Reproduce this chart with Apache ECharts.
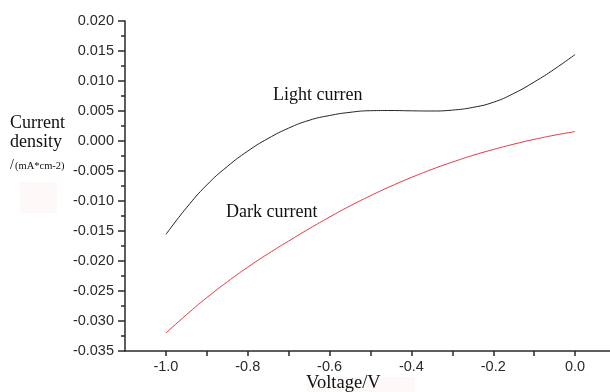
<!DOCTYPE html>
<html>
<head>
<meta charset="utf-8">
<script src="https://cdn.jsdelivr.net/npm/echarts@6/dist/echarts.min.js"></script>
<style>
html,body{margin:0;padding:0;background:#fff;}
#chart{width:610px;height:392px;}
</style>
</head>
<body>
<div id="chart"></div>
<script>
// Voltage (V)
var voltage = [-1.0,-0.95,-0.9,-0.85,-0.8,-0.75,-0.7,-0.65,-0.6,-0.55,-0.5,-0.45,-0.4,-0.35,-0.3,-0.25,-0.2,-0.15,-0.1,-0.05,0.0];
// Light current density
var lightCurrent = [-0.01558,-0.01115,-0.00732,-0.00425,-0.00168,0.00043,0.00215,0.00345,0.00425,0.00478,0.00505,0.00508,0.00503,0.00500,0.00515,0.00560,0.00645,0.00792,0.00983,0.01200,0.01442];
// Dark current density
var darkCurrent = [-0.03200,-0.02897,-0.02610,-0.02347,-0.02103,-0.01878,-0.01667,-0.01462,-0.01267,-0.01082,-0.00912,-0.00753,-0.00607,-0.00473,-0.00352,-0.00240,-0.00142,-0.00053,0.00027,0.00097,0.00157];

var chart = echarts.init(document.getElementById('chart'), null, {renderer:'canvas'});

function pairs(xs, ys){ return xs.map(function(x,i){ return [x, ys[i]]; }); }

var serif = '"Liberation Serif", "DejaVu Serif", serif';
var sans = '"Liberation Sans", Arial, sans-serif';

chart.setOption({
  animation:false,
  backgroundColor:'#ffffff',
  grid:{left:125, top:21, width:491, height:330, containLabel:false, outerBoundsMode:'none'},
  xAxis:{
    type:'value', min:-1.1, max:0.1, interval:0.1,
    axisLine:{show:true, onZero:false, lineStyle:{color:'#2a2a2a', width:1.5}},
    axisTick:{show:true, length:5, lineStyle:{color:'#2a2a2a', width:1.5}},
    splitLine:{show:false},
    axisLabel:{
      show:true, margin:8, color:'#2a2a2a', fontFamily:sans, fontSize:14.5,
      showMinLabel:false, showMaxLabel:false,
      formatter:function(v){
        var k = Math.round(v*10);
        if (k % 2 !== 0) return '';
        if (k === 0) return '0.0';
        return (k/10).toFixed(1);
      }
    }
  },
  yAxis:{
    type:'value', min:-0.035, max:0.02, interval:0.005,
    axisLine:{show:true, onZero:false, lineStyle:{color:'#2a2a2a', width:1.5}},
    axisTick:{show:true, length:7, lineStyle:{color:'#2a2a2a', width:1.5}},
    minorTick:{show:true, splitNumber:2, length:4, lineStyle:{color:'#2a2a2a', width:1.5}},
    splitLine:{show:false},
    minorSplitLine:{show:false},
    axisLabel:{
      show:true, margin:11, color:'#2a2a2a', fontFamily:sans, fontSize:14.5,
      formatter:function(v){
        if (Math.abs(v) < 1e-9) return '0.000';
        return v.toFixed(3);
      }
    }
  },
  series:[
    {
      name:'Light current', type:'line', data:pairs(voltage, lightCurrent),
      smooth:0.5, showSymbol:false, symbol:'none',
      lineStyle:{color:'#222222', width:1}
    },
    {
      name:'Dark current', type:'line', data:pairs(voltage, darkCurrent),
      smooth:0.5, showSymbol:false, symbol:'none',
      lineStyle:{color:'#e8383d', width:1}
    }
  ],
  graphic:[
    {type:'rect', left:20, top:182, shape:{width:37, height:31}, style:{fill:'#fdf9f9'}, z:-1},
    {type:'rect', left:307, top:377, shape:{width:108, height:15}, style:{fill:'#fdf9f9'}, z:-1},
    {type:'text', left:273, top:86, style:{text:'Light curren', font:'18px ' + serif, fill:'#111'}},
    {type:'text', left:226, top:203, style:{text:'Dark current', font:'18px ' + serif, fill:'#111'}},
    {type:'text', left:10, top:114, style:{text:'Current', font:'18px ' + serif, fill:'#111'}},
    {type:'text', left:10, top:133, style:{text:'density', font:'18px ' + serif, fill:'#111'}},
    {type:'text', left:10, top:158, style:{text:'/', font:'14px ' + serif, fill:'#111'}},
    {type:'text', left:15, top:161, style:{text:'(mA*cm-2)', font:'10.5px ' + serif, fill:'#111'}},
    {type:'text', left:306, top:374, style:{text:'Voltage/V', font:'18.5px ' + serif, fill:'#111'}}
  ]
});
</script>
</body>
</html>
